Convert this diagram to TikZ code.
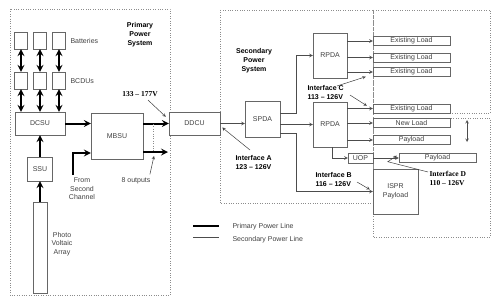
\documentclass[tikz,border=0pt]{standalone}
\usepackage{fontspec}
\setmainfont{Liberation Sans}
\newfontfamily\timesfont{Liberation Serif}
\usetikzlibrary{arrows, positioning, calc}

\begin{document}
\begin{tikzpicture}[
    x=1pt, y=-1pt,
    font=\fontsize{7}{8.5}\selectfont,
    unit/.style={rectangle, draw=black!60, thin, fill=white, inner sep=0pt, text=black!75, align=center},
    small/.style={unit, minimum width=13pt, minimum height=17pt},
    load/.style={unit, minimum width=77pt, minimum height=9pt},
    primary/.style={->, >=stealth, line width=2pt},
    primboth/.style={<->, >=stealth, line width=2pt},
    secondary/.style={->, >=stealth, black!70, line width=0.6pt},
    pointer/.style={->, >=stealth, black!75, line width=0.5pt},
    region/.style={draw=black!45, dotted},
    note/.style={text=black!75, align=center},
    iface/.style={font=\fontsize{7}{9}\selectfont\bfseries, align=left},
    ifserif/.style={font=\fontsize{7.5}{9}\selectfont\timesfont\bfseries, align=left}
]
\useasboundingbox (0,0) rectangle (500,305);

% Regions
\draw[region] (10,9) rectangle (170,295);
\draw[region] (220,10) rectangle (373,203);
\draw[region] (373,10) rectangle (490,113);
\draw[region] (373,118) rectangle (490,237);

\node[iface, align=center] (prititle) at (140,35) {Primary\\Power\\System};
\node[iface, align=center] (sectitle) at (254,61) {Secondary\\Power\\System};

% Batteries and BCDUs
\foreach \i/\x in {1/21, 2/40, 3/59} {
    \node[small] (bat\i) at (\x,40.5) {};
    \node[small] (bcdu\i) at (\x,80.5) {};
    \draw[primboth] (bat\i) -- (bcdu\i);
}
\node[note, right] (batlbl) at (67,41) {Batteries};
\node[note, right] (bcdulbl) at (67,81) {BCDUs};

% Primary units
\node[unit, minimum width=50pt, minimum height=23pt] (dcsu) at (40,123.5) {DCSU};
\node[unit, minimum width=52pt, minimum height=46pt] (mbsu) at (117,136) {MBSU};
\node[unit, minimum width=25pt, minimum height=24pt] (ssu) at (40,169) {SSU};
\node[unit, minimum width=14pt, minimum height=91pt] (pva) at (40,247.5) {};
\node[note] (pvalbl) at (62,244) {Photo\\Voltaic\\Array};
\node[unit, minimum width=51pt, minimum height=23pt] (ddcu) at (194.5,123.5) {DDCU};

\foreach \i in {1,2,3}
    \draw[primboth] (bcdu\i.south) -- (bcdu\i.south |- dcsu.north);
\draw[primary] (pva) -- (ssu);
\draw[primary] (ssu) -- (dcsu);
\draw[primary] (dcsu.east) -- (dcsu.east -| mbsu.west);

% Second channel
\coordinate (chan2) at (73,175);
\draw[primary] (chan2) |- ([yshift=-17pt]mbsu.west);
\node[note] (chanlbl) at (82,189) {From\\Second\\Channel};

% MBSU outputs
\coordinate (out8) at (168,152);
\draw[primary] (mbsu.east |- ddcu.west) -- (ddcu.west);
\draw[primary] (mbsu.east |- out8) -- (out8);
\draw[region] (153,124) -- (153,152);
\node[note] (outlbl) at (136,181) {8 outputs};
\draw[pointer] ([xshift=-4pt]outlbl.north east) -- ($(out8)+(-14,4)$);

\node[ifserif] (primv) at (140,94) {133 – 177V};
\draw[pointer] ([xshift=8pt]primv.south) -- ($(ddcu.north west)+(-3,5)$);

% Secondary units
\node[unit, minimum width=35pt, minimum height=36pt] (spda) at (262.5,119) {SPDA};
\node[unit, minimum width=34pt, minimum height=45pt] (rpda1) at (330,55.5) {RPDA};
\node[unit, minimum width=34pt, minimum height=45pt] (rpda2) at (330,124.5) {RPDA};
\node[unit, minimum width=25pt, minimum height=10pt] (uop) at (360.5,158) {UOP};
\node[unit, minimum width=45pt, minimum height=45pt] (ispr) at (395.5,191.5) {ISPR\\Payload};

\foreach \n/\y/\t in {1/41/Existing Load, 2/57.5/Existing Load, 3/72/Existing Load,
    4/108.5/Existing Load, 5/123/New Load, 6/140/Payload}
    \node[load] (load\n) at (411.5,\y) {\t};
\node[load] (payload2) at (437.5,158) {Payload};

\draw[secondary] (ddcu.east) -- (ddcu.east -| spda.west);
\draw[secondary] ($(spda.east)+(0,-6)$) -- ++(16,0) |- (rpda1.west);
\draw[secondary] (spda.east |- rpda2.west) -- (rpda2.west);
\draw[secondary] ($(spda.east)+(0,14)$) -- ++(16,0) |- (ispr.west);
\foreach \n in {1,2,3}
    \draw[secondary] (rpda1.east |- load\n.west) -- (load\n.west);
\foreach \n in {4,5,6}
    \draw[secondary] (rpda2.east |- load\n.west) -- (load\n.west);
\draw[secondary] ($(rpda2.south)+(2,0)$) |- (uop.west);
\draw[secondary] (uop.east) -- (payload2.west);

% Interfaces
\node[iface, anchor=north west] (ifaceA) at (232,152) {Interface A\\123 – 126V};
\draw[pointer] ($(ifaceA.north west)+(18,-2)$) -- ($(ddcu.east)+(2,4)$);

\node[iface, anchor=north west] (ifaceC) at (304,82) {Interface C\\113 – 126V};
\draw[pointer] ($(ifaceC.north west)+(33,4)$) -- ($(load3.south west)+(-7,0)$);
\draw[pointer] ($(ifaceC.north west)+(46,13)$) -- ($(load4.north west)+(-6,2)$);

\node[iface, anchor=north west] (ifaceB) at (312,169) {Interface B\\116 – 126V};
\draw[pointer] ($(ifaceB.north west)+(45,13)$) -- ($(ispr.west)+(-3,-2)$);

\node[ifserif, anchor=north west] (ifaceD) at (426,168) {Interface D\\110 – 126V};
\draw[pointer] ($(ifaceD.north west)+(2,4)$) -- ($(payload2.south west)+(-11,-1)$) -- ($(payload2.south west)+(-2,-7)$);

\coordinate (dtop) at (467,120);
\coordinate (dbot) at (467,142);
\draw[<->, >=stealth, black!70, line width=0.6pt] (dtop) -- (dbot);

% Legend
\coordinate (prileg) at (193,226);
\coordinate (secleg) at (193,237);
\draw[line width=2pt] (prileg) -- ++(26,0);
\draw[black!70, line width=0.6pt] (secleg) -- ++(26,0);
\node[note, right] (prilbl) at (229,227) {Primary Power Line};
\node[note, right] (seclbl) at (229,240) {Secondary Power Line};

\end{tikzpicture}
\end{document}
